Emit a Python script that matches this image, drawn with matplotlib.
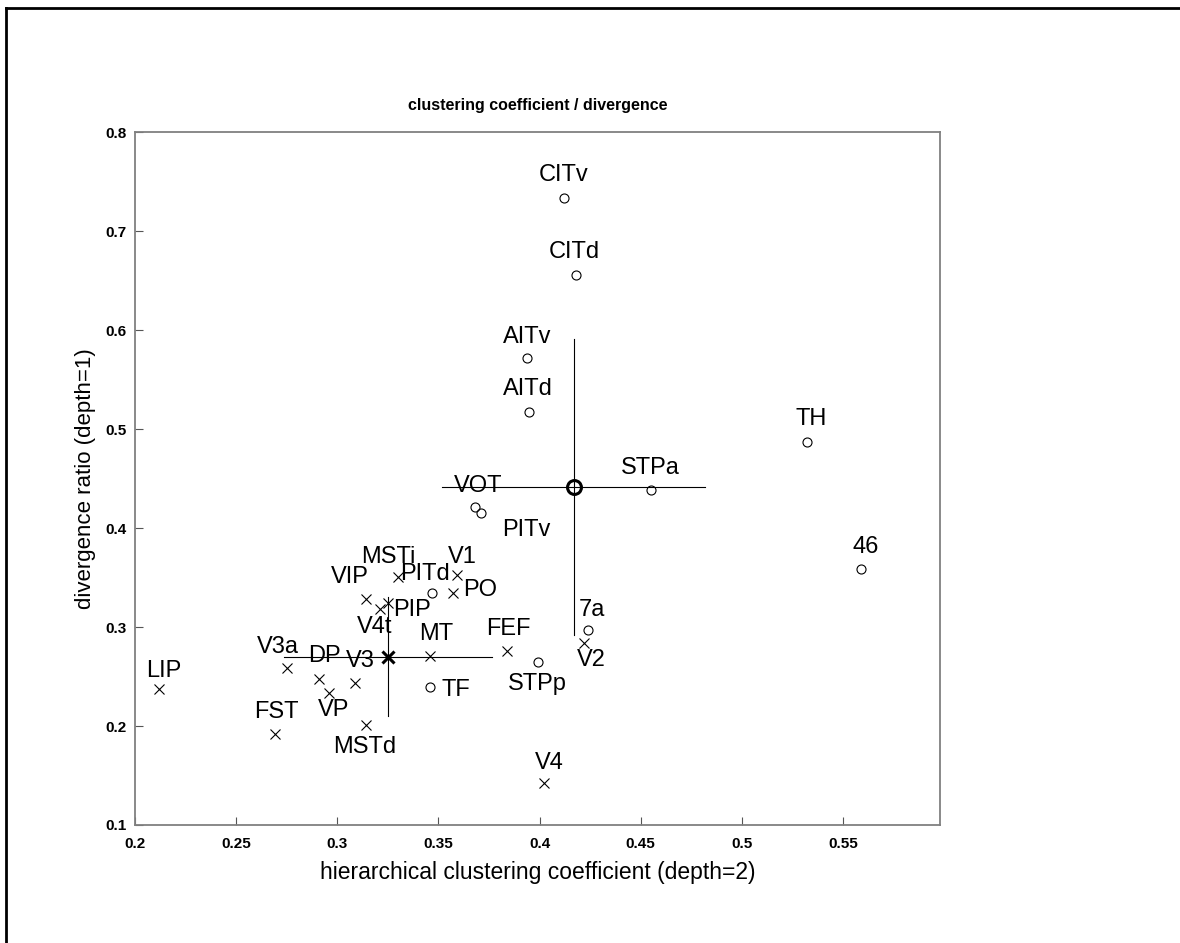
import numpy as np
import matplotlib
matplotlib.use('Agg')
import matplotlib.pyplot as plt
from matplotlib.lines import Line2D
from matplotlib.ticker import FormatStrFormatter

plt.rcParams['font.family'] = ['Liberation Sans', 'DejaVu Sans']

# areas marked with circles
circ_names = ['CITv', 'CITd', 'AITv', 'AITd', 'TH', 'STPa', 'VOT', 'PITv', '46', 'PITd', '7a', 'STPp', 'TF']
circ_x = [0.412, 0.418, 0.394, 0.395, 0.532, 0.455, 0.368, 0.371, 0.559, 0.347, 0.424, 0.399, 0.346]
circ_y = [0.733, 0.656, 0.572, 0.517, 0.487, 0.438, 0.421, 0.415, 0.359, 0.334, 0.297, 0.265, 0.239]

# areas marked with crosses
cross_names = ['LIP', 'V3a', 'DP', 'VP', 'V3', 'FST', 'MSTd', 'MT', 'FEF', 'V2', 'V4', 'VIP', 'MSTi', 'V1', 'PO', 'V4t', 'PIP']
cross_x = [0.212, 0.275, 0.291, 0.296, 0.309, 0.269, 0.314, 0.346, 0.384, 0.422, 0.402, 0.314, 0.330, 0.359, 0.357, 0.321, 0.325]
cross_y = [0.237, 0.259, 0.247, 0.233, 0.243, 0.192, 0.201, 0.271, 0.276, 0.284, 0.142, 0.328, 0.351, 0.353, 0.334, 0.318, 0.324]

x_ticks = [0.2, 0.25, 0.3, 0.35, 0.4, 0.45, 0.5, 0.55]
y_ticks = [0.1, 0.2, 0.3, 0.4, 0.5, 0.6, 0.7, 0.8]

# label placement, pixel offsets from the marker (right, up)
label_offset = {
    'CITv': (0, 23), 'CITd': (-1.5, 22.5), 'AITv': (0, 21), 'AITd': (-1.5, 23),
    'TH': (5, 23), 'STPa': (0, 22.5), 'VOT': (3.5, 21), 'PITv': (45, -17),
    '46': (5, 22), 'PITd': (-7, 19), '7a': (4, 20), 'STPp': (0, -22), 'TF': (26, -3),
    'LIP': (4, 18), 'V3a': (-9, 21), 'DP': (5, 23), 'VP': (4, -17), 'V3': (5, 22),
    'FST': (2, 22), 'MSTd': (-1, -22), 'MT': (6, 22), 'FEF': (1, 22), 'V2': (7, -17),
    'V4': (6, 20), 'VIP': (-16, 22), 'MSTi': (-10, 20), 'V1': (6, 18), 'PO': (28, 3),
    'V4t': (-5, -18), 'PIP': (24, -7),
}


def draw_group(ax, xs, ys, marker, ms, center_ms):
    """markers plus mean +/- std cross"""
    xs = np.array(xs)
    ys = np.array(ys)
    ax.plot(xs, ys, marker, mfc='none', mec='k', ms=ms, mew=0.8, ls='none')
    mx, my = xs.mean(), ys.mean()
    sx, sy = xs.std(ddof=1), ys.std(ddof=1)
    ax.plot([mx - sx, mx + sx], [my, my], color='k', lw=0.8)
    ax.plot([mx, mx], [my - sy, my + sy], color='k', lw=0.8)
    ax.plot([mx], [my], marker, mfc='none', mec='k', ms=center_ms, mew=2.2)


def draw_labels(ax, names, xs, ys):
    for name, x, y in zip(names, xs, ys):
        dx, dy = label_offset[name]
        ax.annotate(name, (x, y), xytext=(dx, dy), textcoords='offset pixels',
                    ha='center', va='center', fontsize=17)


fig = plt.figure(figsize=(11.8, 9.43), dpi=100)
ax = fig.add_axes([135 / 1180, 1 - 825 / 943, 805 / 1180, 693 / 943])

draw_group(ax, circ_x, circ_y, 'o', 6.5, 10)
draw_group(ax, cross_x, cross_y, 'x', 7, 8)
draw_labels(ax, circ_names, circ_x, circ_y)
draw_labels(ax, cross_names, cross_x, cross_y)

ax.set_xlim(0.2, 0.598)
ax.set_ylim(0.1, 0.8)
ax.set_xticks(x_ticks)
ax.set_yticks(y_ticks)
ax.xaxis.set_major_formatter(FormatStrFormatter('%g'))
ax.yaxis.set_major_formatter(FormatStrFormatter('%g'))
ax.tick_params(direction='in', length=6, width=0.8, color='#555555', labelsize=11)
ax.tick_params(axis='x', pad=9)
ax.tick_params(axis='y', pad=6)
for lab in ax.get_xticklabels() + ax.get_yticklabels():
    lab.set_fontweight('bold')
for sp in ax.spines.values():
    sp.set_color('#808080')
    sp.set_linewidth(1.3)

ax.set_title('clustering coefficient / divergence', fontsize=11.5, fontweight='bold', pad=16)
ax.set_xlabel('hierarchical clustering coefficient (depth=2)', fontsize=16.5)
ax.xaxis.set_label_coords(0.5, -0.052)
ax.set_ylabel('divergence ratio (depth=1)', fontsize=16)
ax.yaxis.set_label_coords(-0.048, 0.5)

# outer frame, only top and left edges show
fig.add_artist(Line2D([6 / 1180, 6 / 1180], [0, 1 - 8 / 943], transform=fig.transFigure, color='k', lw=2))
fig.add_artist(Line2D([6 / 1180, 1], [1 - 8 / 943, 1 - 8 / 943], transform=fig.transFigure, color='k', lw=2))

plt.savefig('out.png', dpi=100)
plt.close()
